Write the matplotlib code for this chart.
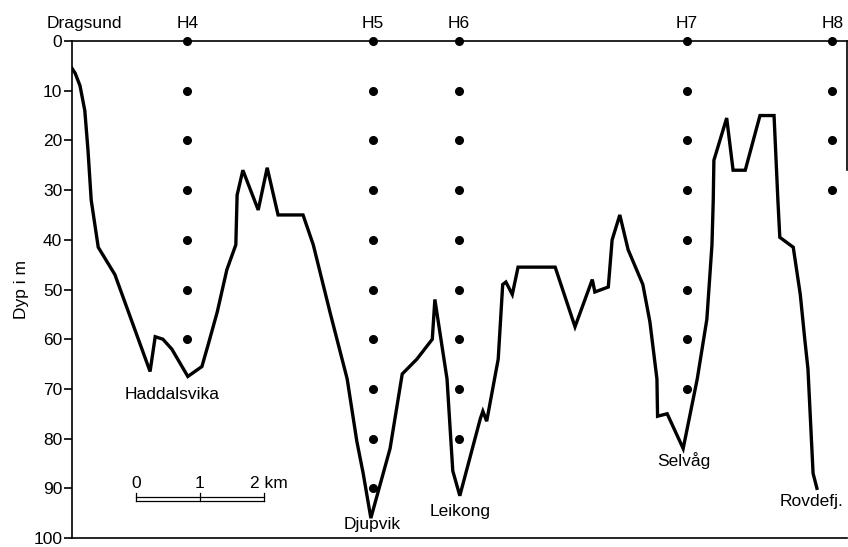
import numpy as np
import matplotlib
matplotlib.use("Agg")
import matplotlib.pyplot as plt

plt.rcParams['font.family'] = ['Liberation Sans', 'DejaVu Sans']

# bottom profile: distance along section (km) and depth (m)
dist_km = [0.00, 0.05, 0.125, 0.20, 0.25, 0.30, 0.41, 0.67, 1.22, 1.30, 1.42,
           1.56, 1.81, 2.03, 2.13, 2.27, 2.42, 2.56, 2.58, 2.67, 2.91, 3.05,
           3.22, 3.61, 3.77, 4.03, 4.30, 4.45, 4.55, 4.67, 4.97, 5.16, 5.39,
           5.63, 5.67, 5.86, 5.95, 6.06, 6.38, 6.42, 6.48, 6.66, 6.73, 6.78,
           6.88, 6.97, 7.55, 7.86, 8.13, 8.17, 8.38, 8.44, 8.56, 8.69, 8.92,
           9.03, 9.14, 9.15, 9.30, 9.55, 9.77, 9.92, 10.00, 10.02, 10.03,
           10.23, 10.33, 10.52, 10.75, 10.97, 11.03, 11.06, 11.27, 11.38,
           11.45, 11.50, 11.58, 11.64]
depth_m = [5.5, 6.5, 9.0, 14.0, 22.0, 32.0, 41.5, 47.0, 66.5, 59.5, 60.0,
           62.0, 67.5, 65.5, 61.0, 54.5, 46.0, 41.0, 31.0, 26.0, 34.0, 25.5,
           35.0, 35.0, 41.0, 54.5, 68.0, 80.5, 87.0, 96.0, 82.0, 67.0, 64.0,
           60.0, 52.0, 68.0, 86.5, 91.5, 76.0, 74.5, 76.5, 64.0, 49.0, 48.5,
           51.0, 45.5, 45.5, 57.5, 48.0, 50.5, 49.5, 40.0, 35.0, 42.0, 49.0,
           56.5, 68.0, 75.5, 75.0, 82.0, 68.0, 56.0, 41.0, 32.0, 24.0,
           15.5, 26.0, 26.0, 15.0, 15.0, 32.0, 39.5, 41.5, 51.0,
           60.0, 66.0, 87.0, 90.0]

# stations and their sampling depths
stations = ['H4', 'H5', 'H6', 'H7', 'H8']
station_km = [1.80, 4.70, 6.05, 9.61, 11.88]
station_depths = [
    [0, 10, 20, 30, 40, 50, 60],
    [0, 10, 20, 30, 40, 50, 60, 70, 80, 90],
    [0, 10, 20, 30, 40, 50, 60, 70, 80],
    [0, 10, 20, 30, 40, 50, 60, 70],
    [0, 10, 20, 30],
]

# place names along the bottom
places = ['Haddalsvika', 'Djupvik', 'Leikong', 'Selvåg', 'Rovdefj.']
place_km = [1.56, 4.69, 6.06, 9.56, 11.56]
place_depth = [71.2, 97.2, 94.6, 84.4, 92.6]

yticks = list(range(0, 101, 10))

fig = plt.figure(figsize=(8.48, 5.47), dpi=100)
ax = fig.add_axes([72 / 848, 9 / 547, 775 / 848, 497 / 547])

ax.plot(dist_km, depth_m, color='black', lw=2.4, solid_joinstyle='miter')

for name, x, ds in zip(stations, station_km, station_depths):
    ax.plot([x] * len(ds), ds, 'o', color='black', ms=5.5, clip_on=False, zorder=5)
    ax.text(x, -2.6, name, ha='center', va='baseline', fontsize=12.5)

ax.text(0.2, -2.6, 'Dragsund', ha='center', va='baseline', fontsize=12.5)

for name, x, d in zip(places, place_km, place_depth):
    ax.text(x, d, name, ha='center', va='center', fontsize=12.5)

# scale bar
ax.plot([1.0, 3.0], [91.8, 91.8], color='black', lw=0.9)
ax.plot([1.0, 3.0], [92.6, 92.6], color='black', lw=0.9)
for xs in [1.0, 2.0, 3.0]:
    ax.plot([xs, xs], [91.0, 92.6], color='black', lw=0.9)
ax.text(1.0, 89.0, '0', ha='center', va='center', fontsize=12.5)
ax.text(2.0, 89.0, '1', ha='center', va='center', fontsize=12.5)
ax.text(3.08, 89.0, '2 km', ha='center', va='center', fontsize=12.5)

ax.set_xlim(0, 12.11)
ax.set_ylim(100, 0)
ax.set_yticks(yticks)
ax.set_xticks([])
ax.tick_params(axis='y', length=6, width=1.2, pad=1, labelsize=12.5)
ax.set_ylabel('Dyp i m', fontsize=12.5, labelpad=3)
ax.spines['right'].set_visible(False)
for s in ['left', 'top', 'bottom']:
    ax.spines[s].set_linewidth(1.2)
ax.axvline(12.11, ymin=0.74, ymax=1.0, color='black', lw=1.2, clip_on=False)

fig.savefig('out.png', dpi=100)
